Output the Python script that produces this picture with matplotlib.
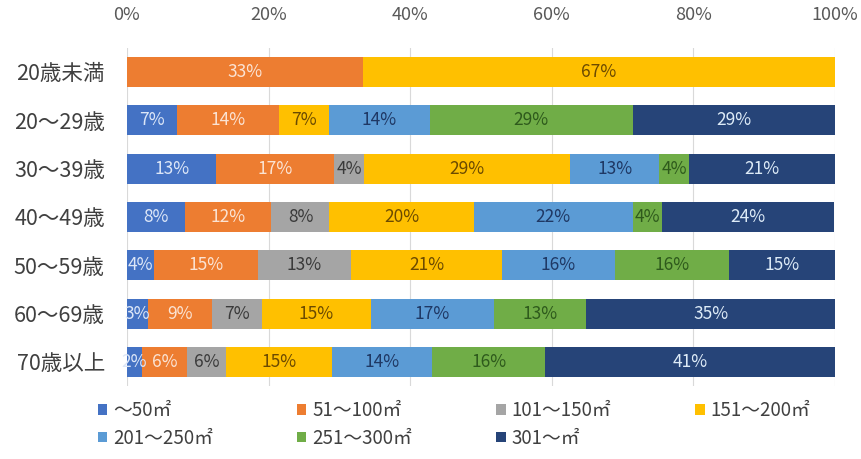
import matplotlib
matplotlib.use("Agg")
import matplotlib.pyplot as plt
import numpy as np

plt.rcParams["font.family"] = ["Noto Sans CJK JP", "DejaVu Sans"]

# age groups (top to bottom)
categories = ["20歳未満", "20～29歳", "30～39歳", "40～49歳", "50～59歳", "60～69歳", "70歳以上"]

# floor area classes
series_names = ["～50㎡", "51～100㎡", "101～150㎡", "151～200㎡", "201～250㎡", "251～300㎡", "301～㎡"]

# share (%) of each area class per age group
s_50 = [0.0, 7.1, 12.6, 8.2, 3.8, 3.0, 2.1]
s_100 = [33.3, 14.3, 16.7, 12.2, 14.7, 9.0, 6.4]
s_150 = [0.0, 0.0, 4.2, 8.2, 13.1, 7.0, 5.5]
s_200 = [66.7, 7.1, 29.1, 20.4, 21.4, 15.4, 14.9]
s_250 = [0.0, 14.3, 12.6, 22.4, 15.9, 17.4, 14.2]
s_300 = [0.0, 28.6, 4.2, 4.1, 16.1, 13.1, 16.0]
s_301 = [0.0, 28.6, 20.6, 24.4, 15.0, 35.1, 40.9]

series = [s_50, s_100, s_150, s_200, s_250, s_300, s_301]

colors = ["#4472C4", "#ED7D31", "#A5A5A5", "#FFC000", "#5B9BD5", "#70AD47", "#264478"]
label_colors = ["#DCE6F7", "#FBE3D3", "#3A3A3A", "#6B4A00", "#1F3864", "#2E5A1C", "#DDEBF7"]

fig = plt.figure(figsize=(8.61, 4.59), dpi=100)
ax = fig.add_axes([0.1475, 0.159, 0.8223, 0.737])

y = np.arange(len(categories))
left = np.zeros(len(categories))
handles = []
for vals, col, lcol, name in zip(series, colors, label_colors, series_names):
    vals = np.array(vals)
    bars = ax.barh(y, vals, left=left, height=0.62, color=col, label=name, zorder=2)
    handles.append(bars)
    for yi, (l, v) in enumerate(zip(left, vals)):
        if v > 0:
            ax.text(l + v / 2, yi, f"{v:.0f}%", ha="center", va="center",
                    fontsize=12.5, color=lcol, zorder=3)
    left += vals

ax.set_xlim(0, 100)
ax.set_ylim(len(categories) - 0.5, -0.5)
ax.set_yticks(y)
ax.set_yticklabels(categories, fontsize=15.5, color="#404040")
ax.set_xticks([0, 20, 40, 60, 80, 100])
ax.set_xticklabels([f"{t}%" for t in [0, 20, 40, 60, 80, 100]], fontsize=13, color="#595959")
ax.xaxis.tick_top()
ax.tick_params(axis="both", length=0)
ax.tick_params(axis="x", pad=17)
ax.tick_params(axis="y", pad=16)
ax.grid(axis="x", color="#D9D9D9", linewidth=0.8, zorder=0)
for spine in ax.spines.values():
    spine.set_visible(False)

# legend is filled column by column, so interleave to get row-wise order
order = [0, 4, 1, 5, 2, 6, 3]
fig.legend(handles=[handles[i] for i in order], loc="upper left", bbox_to_anchor=(0.094, 0.165),
           ncol=4, frameon=False, fontsize=13.5, handlelength=0.5, handleheight=0.5,
           handletextpad=0.3, columnspacing=4.5, labelspacing=0.35,
           labelcolor="#404040")

fig.savefig("out.png", dpi=100)
